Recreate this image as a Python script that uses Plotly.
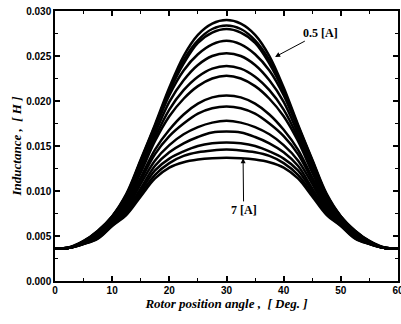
import plotly.graph_objects as go

angle_deg = [0, 2.5, 5, 7.5, 10, 12.5, 15, 17.5, 20, 22.5, 25, 27.5, 30,
             32.5, 35, 37.5, 40, 42.5, 45, 47.5, 50, 52.5, 55, 57.5, 60]

current_labels = ["0.5", "1.0", "1.5", "2.0", "2.5", "3.0", "3.5",
                  "4.0", "4.5", "5.0", "5.5", "6.0", "6.5", "7.0"]

ind_0p5 = [0.00360, 0.00375, 0.00445, 0.00560, 0.00720, 0.00970, 0.01350, 0.01740, 0.02150, 0.02500, 0.02735, 0.02860, 0.02900,
           0.02860, 0.02735, 0.02500, 0.02150, 0.01740, 0.01350, 0.00970, 0.00720, 0.00560, 0.00445, 0.00375, 0.00360]
ind_1p0 = [0.00360, 0.00372, 0.00442, 0.00554, 0.00716, 0.00958, 0.01338, 0.01725, 0.02125, 0.02455, 0.02675, 0.02800, 0.02840,
           0.02800, 0.02675, 0.02455, 0.02125, 0.01725, 0.01338, 0.00958, 0.00716, 0.00554, 0.00442, 0.00372, 0.00360]
ind_1p5 = [0.00360, 0.00372, 0.00441, 0.00552, 0.00714, 0.00952, 0.01330, 0.01715, 0.02105, 0.02415, 0.02645, 0.02760, 0.02800,
           0.02760, 0.02645, 0.02415, 0.02105, 0.01715, 0.01330, 0.00952, 0.00714, 0.00552, 0.00441, 0.00372, 0.00360]
ind_2p0 = [0.00360, 0.00370, 0.00438, 0.00546, 0.00705, 0.00938, 0.01305, 0.01690, 0.02065, 0.02340, 0.02520, 0.02630, 0.02670,
           0.02630, 0.02520, 0.02340, 0.02065, 0.01690, 0.01305, 0.00938, 0.00705, 0.00546, 0.00438, 0.00370, 0.00360]
ind_2p5 = [0.00360, 0.00369, 0.00434, 0.00538, 0.00694, 0.00920, 0.01270, 0.01640, 0.01990, 0.02230, 0.02400, 0.02500, 0.02530,
           0.02500, 0.02400, 0.02230, 0.01990, 0.01640, 0.01270, 0.00920, 0.00694, 0.00538, 0.00434, 0.00369, 0.00360]
ind_3p0 = [0.00360, 0.00370, 0.00430, 0.00530, 0.00680, 0.00895, 0.01230, 0.01595, 0.01905, 0.02120, 0.02270, 0.02360, 0.02390,
           0.02360, 0.02270, 0.02120, 0.01905, 0.01595, 0.01230, 0.00895, 0.00680, 0.00530, 0.00430, 0.00370, 0.00360]
ind_3p5 = [0.00360, 0.00370, 0.00430, 0.00520, 0.00670, 0.00875, 0.01205, 0.01555, 0.01830, 0.02025, 0.02165, 0.02250, 0.02280,
           0.02250, 0.02165, 0.02025, 0.01830, 0.01555, 0.01205, 0.00875, 0.00670, 0.00520, 0.00430, 0.00370, 0.00360]
ind_4p0 = [0.00360, 0.00370, 0.00426, 0.00510, 0.00660, 0.00845, 0.01150, 0.01460, 0.01680, 0.01850, 0.01970, 0.02040, 0.02060,
           0.02040, 0.01970, 0.01850, 0.01680, 0.01460, 0.01150, 0.00845, 0.00660, 0.00510, 0.00426, 0.00370, 0.00360]
ind_4p5 = [0.00360, 0.00370, 0.00423, 0.00503, 0.00651, 0.00825, 0.01120, 0.01410, 0.01610, 0.01750, 0.01860, 0.01920, 0.01940,
           0.01920, 0.01860, 0.01750, 0.01610, 0.01410, 0.01120, 0.00825, 0.00651, 0.00503, 0.00423, 0.00370, 0.00360]
ind_5p0 = [0.00360, 0.00370, 0.00419, 0.00494, 0.00639, 0.00800, 0.01080, 0.01340, 0.01510, 0.01630, 0.01710, 0.01760, 0.01780,
           0.01760, 0.01710, 0.01630, 0.01510, 0.01340, 0.01080, 0.00800, 0.00639, 0.00494, 0.00419, 0.00370, 0.00360]
ind_5p5 = [0.00360, 0.00369, 0.00416, 0.00487, 0.00630, 0.00780, 0.01030, 0.01280, 0.01430, 0.01530, 0.01600, 0.01650, 0.01660,
           0.01650, 0.01600, 0.01530, 0.01430, 0.01280, 0.01030, 0.00780, 0.00630, 0.00487, 0.00416, 0.00369, 0.00360]
ind_6p0 = [0.00360, 0.00369, 0.00414, 0.00480, 0.00622, 0.00760, 0.01000, 0.01230, 0.01360, 0.01440, 0.01500, 0.01530, 0.01540,
           0.01530, 0.01500, 0.01440, 0.01360, 0.01230, 0.01000, 0.00760, 0.00622, 0.00480, 0.00414, 0.00369, 0.00360]
ind_6p5 = [0.00360, 0.00368, 0.00412, 0.00475, 0.00617, 0.00748, 0.00970, 0.01180, 0.01310, 0.01390, 0.01430, 0.01450, 0.01460,
           0.01450, 0.01430, 0.01390, 0.01310, 0.01180, 0.00970, 0.00748, 0.00617, 0.00475, 0.00412, 0.00368, 0.00360]
ind_7p0 = [0.00360, 0.00368, 0.00410, 0.00470, 0.00610, 0.00735, 0.00940, 0.01140, 0.01260, 0.01320, 0.01350, 0.01365, 0.01370,
           0.01365, 0.01350, 0.01320, 0.01260, 0.01140, 0.00940, 0.00735, 0.00610, 0.00470, 0.00410, 0.00368, 0.00360]

series = [ind_0p5, ind_1p0, ind_1p5, ind_2p0, ind_2p5, ind_3p0, ind_3p5,
          ind_4p0, ind_4p5, ind_5p0, ind_5p5, ind_6p0, ind_6p5, ind_7p0]

fig = go.Figure()
for lab, vals in zip(current_labels, series):
    fig.add_trace(go.Scatter(
        x=angle_deg, y=vals, mode="lines", name=lab + " A",
        line=dict(color="black", width=2.5, shape="spline", smoothing=1.0),
        showlegend=False, hoverinfo="skip",
    ))

tickfont = dict(family="Liberation Sans", size=10, color="black", weight="bold")
titlefont = dict(family="Liberation Serif", size=13, color="black",
                 weight="bold", style="italic")

fig.update_xaxes(
    range=[0, 60], dtick=10, tick0=0, automargin=False,
    showline=True, linecolor="black", linewidth=1.5, mirror="ticks",
    ticks="inside", ticklen=5, tickwidth=1.5, tickcolor="black",
    minor=dict(ticks="inside", ticklen=3, dtick=5, tickcolor="black", tickwidth=1),
    showgrid=False, zeroline=False, tickfont=tickfont, ticklabelstandoff=-1,
    ticklabeloverflow="allow",
    title=dict(text="Rotor position angle ,  [ Deg. ]", font=titlefont, standoff=3),
)
fig.update_yaxes(
    range=[0, 0.030], dtick=0.005, tick0=0, tickformat=".3f", automargin=False,
    showline=True, linecolor="black", linewidth=1.5, mirror="ticks",
    ticks="inside", ticklen=5, tickwidth=1.5, tickcolor="black",
    minor=dict(ticks="inside", ticklen=3, dtick=0.0025, tickcolor="black", tickwidth=1),
    showgrid=False, zeroline=False, tickfont=tickfont, ticklabeloverflow="allow",
    title=dict(text="Inductance ,  [ H ]", font=titlefont, standoff=2),
)

annfont = dict(family="Liberation Serif", size=12, color="black", weight="bold")
fig.add_annotation(x=38.5, y=0.0249, ax=46.5, ay=0.0276, xref="x", yref="y",
                   axref="x", ayref="y", text="0.5 [A]", showarrow=True,
                   arrowhead=2, arrowsize=1, arrowwidth=1, arrowcolor="black",
                   font=annfont)
fig.add_annotation(x=32.9, y=0.01363, ax=33.0, ay=0.0079, xref="x", yref="y",
                   axref="x", ayref="y", text="7 [A]", showarrow=True,
                   arrowhead=2, arrowsize=1, arrowwidth=1, arrowcolor="black",
                   font=annfont)

fig.update_layout(
    width=401, height=324,
    margin=dict(l=55, r=3, t=11, b=43),
    paper_bgcolor="white", plot_bgcolor="white",
)

fig.write_html("out.html", config={"displayModeBar": False},
               post_script="document.body.style.margin='0';document.body.style.overflow='hidden';")
